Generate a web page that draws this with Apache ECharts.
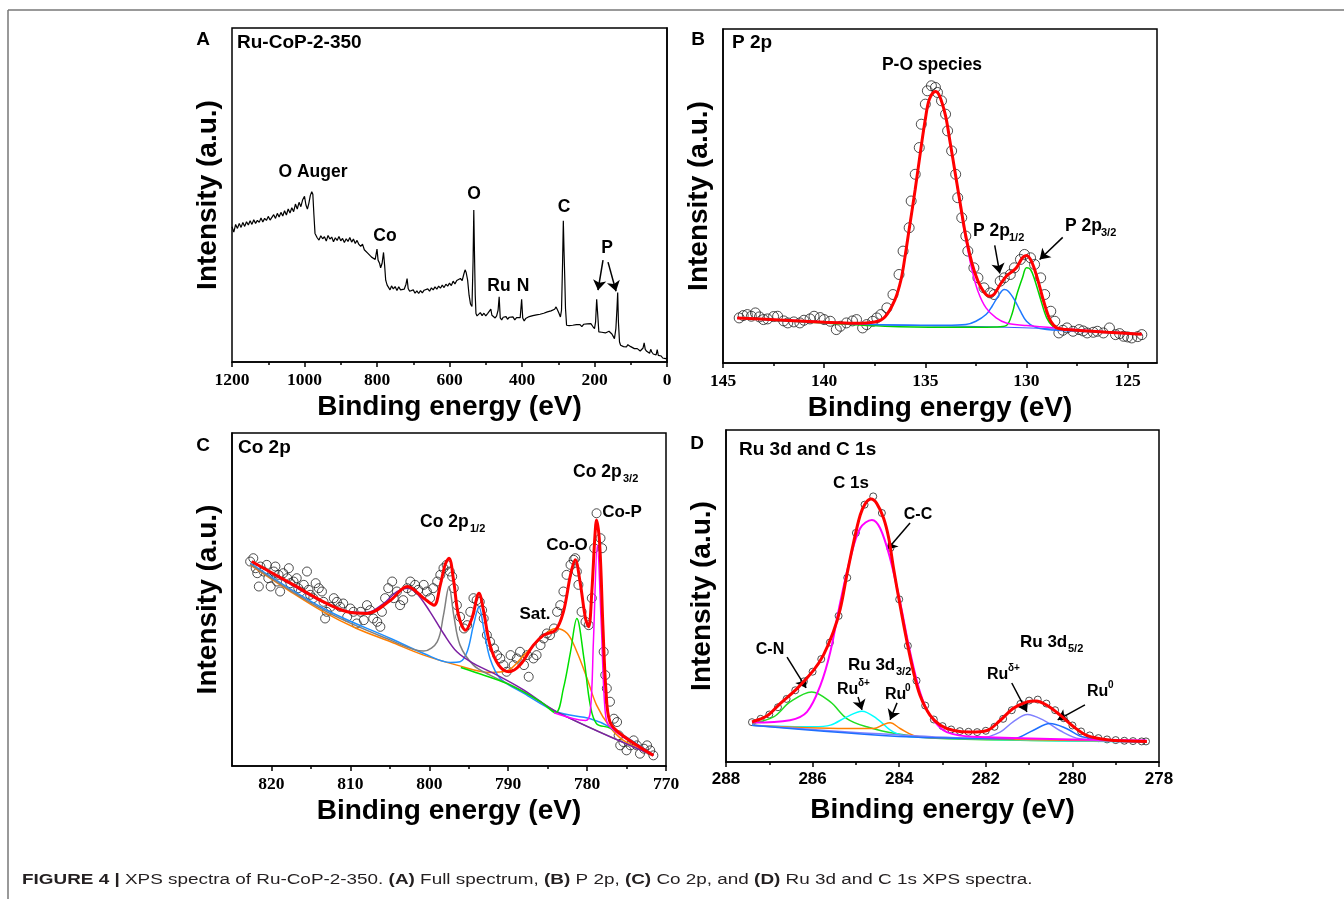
<!DOCTYPE html>
<html><head><meta charset="utf-8">
<script src="https://cdn.jsdelivr.net/npm/echarts@6/dist/echarts.min.js"></script>
<style>html,body{margin:0;padding:0;background:#fff}#c{width:1344px;height:899px}</style>
</head><body><div id="c"></div>
<script>
// ---------- Tick labels ----------
const ticksB = [125, 130, 135, 140, 145];
const minorB = [127.5, 132.5, 137.5, 142.5];
const ticksC = [770, 780, 790, 800, 810, 820];
const minorC = [775, 785, 795, 805, 815];

// ---------- Panel A: survey spectrum [eV, intensity a.u.] ----------
const specA = [
[1200,40.5],[1195,38.9],[1190,41.2],[1185,40.0],[1180,41.5],[1175,40.3],[1170,41.8],[1165,40.6],[1160,42.0],[1155,41.0],
[1150,42.3],[1145,41.2],[1140,42.6],[1135,41.5],[1130,42.4],[1125,41.8],[1120,43.1],[1115,41.9],[1110,43.0],[1105,42.4],
[1100,43.6],[1095,42.5],[1090,43.3],[1085,44.1],[1080,43.0],[1075,44.5],[1070,43.4],[1065,44.8],[1060,43.7],[1055,45.3],
[1050,44.0],[1045,45.8],[1040,44.6],[1035,46.2],[1030,45.0],[1025,47.3],[1020,45.8],[1015,47.8],[1010,46.5],[1005,48.6],
[1000,49.6],[996,47.0],[992,45.8],[988,47.5],[984,49.8],[980,51.0],[977,50.2],[974,44.0],[971,38.5],[968,38.0],
[965,37.2],[960,36.5],[955,37.8],[950,36.9],[945,37.5],[940,36.2],[935,37.9],[930,36.8],[925,37.4],[920,36.0],
[915,37.2],[910,36.4],[905,37.6],[900,36.3],[895,37.0],[890,35.8],[885,36.9],[880,36.1],[875,37.3],[870,35.9],
[865,36.8],[860,35.5],[855,36.4],[850,35.2],[845,34.6],[840,35.3],[835,33.6],[830,33.9],[825,32.5],[820,32.9],
[815,31.4],[810,31.8],[805,30.7],[800,33.8],[797,30.5],[793,29.6],[790,28.2],[786,29.5],[782,32.8],[779,29.0],
[776,24.5],[772,23.0],[768,22.6],[764,21.6],[760,22.8],[755,21.9],[750,22.6],[745,21.4],[740,22.5],[735,21.6],
[730,22.1],[725,21.8],[720,23.3],[717,25.0],[714,22.0],[710,21.2],[705,20.8],[700,21.6],[695,20.6],[690,21.3],
[685,20.5],[680,21.4],[675,20.7],[670,21.5],[665,21.0],[660,21.9],[655,21.2],[650,22.2],[645,21.6],[640,22.5],
[635,21.8],[630,22.7],[625,22.1],[620,23.0],[615,22.3],[610,23.3],[605,22.7],[600,23.6],[595,22.9],[590,24.2],
[585,23.4],[580,24.4],[575,24.0],[570,25.0],[565,24.4],[560,26.5],[557,27.6],[554,26.8],[550,24.5],[546,20.0],
[542,17.3],[538,16.6],[535,30.0],[533,45.5],[531,32.0],[529,20.0],[527,14.5],[524,13.8],[520,14.0],[515,14.8],
[510,13.9],[505,14.6],[500,13.8],[495,14.5],[490,14.2],[486,15.8],[483,14.0],[478,13.5],[474,13.2],[470,13.8],
[466,15.5],[463,19.5],[460,13.2],[456,12.6],[452,13.4],[448,12.9],[444,13.6],[440,12.8],[435,13.4],[430,13.0],
[425,13.5],[420,12.6],[415,13.3],[410,12.8],[405,13.3],[401,18.8],[398,13.2],[394,12.3],[390,13.0],[385,12.8],
[380,13.6],[375,13.2],[370,13.9],[365,13.4],[360,14.1],[355,13.7],[350,14.3],[345,13.9],[340,14.6],[335,14.2],
[330,15.0],[325,14.6],[320,15.3],[315,15.0],[310,15.8],[306,16.5],[302,15.6],[298,14.6],[294,13.5],[291,15.5],
[288,30.0],[286,42.3],[284,33.0],[282,25.0],[280,16.0],[277,11.0],[274,10.6],[270,10.9],[265,10.4],[260,11.0],
[255,10.6],[250,11.2],[245,10.8],[240,11.2],[235,10.6],[230,11.3],[225,10.9],[220,11.4],[215,11.0],[210,11.5],
[205,10.7],[200,10.0],[197,12.0],[194,18.8],[191,14.0],[188,9.0],[184,8.6],[180,8.9],[175,8.4],[170,8.7],
[165,8.3],[160,9.2],[156,9.5],[152,8.4],[148,7.6],[145,7.0],[141,10.0],[138,16.0],[136,20.8],[134,12.0],
[131,6.0],[128,5.0],[124,4.9],[120,4.6],[116,4.8],[112,4.5],[108,5.2],[104,5.4],[100,4.6],[95,4.4],
[90,4.0],[86,3.6],[82,4.0],[78,3.8],[74,3.3],[70,3.5],[66,4.2],[63,5.7],[60,3.8],[56,3.2],
[52,3.0],[48,2.6],[45,3.8],[42,3.0],[38,2.4],[34,2.8],[30,2.1],[27,3.7],[24,2.0],[20,1.6],
[16,1.8],[12,1.2],[8,1.5],[4,1.0],[0,1.3]
];

// ---------- Panel B: P 2p ----------
const dataB = [
[144.2,13.5],[144.0,14.2],[143.8,14.5],[143.6,14.0],[143.4,15.0],[143.2,13.8],[143.0,13.0],[142.8,13.2],[142.5,13.9],[142.3,14.0],
[142.0,12.6],[141.8,12.0],[141.5,12.3],[141.2,12.0],[141.0,12.8],[140.7,13.2],[140.5,14.0],[140.2,13.6],[140.0,13.0],[139.7,12.5],
[139.4,10.0],[139.2,11.0],[138.9,12.0],[138.6,12.6],[138.4,13.0],[138.1,10.5],[137.9,11.5],[137.6,12.5],[137.4,13.5],[137.2,14.5],
[136.9,16.5],[136.6,20.5],[136.3,26.5],[136.1,33.5],[135.8,40.5],[135.7,48.5],[135.5,56.5],[135.3,64.5],[135.2,71.5],[135.0,77.5],
[134.9,81.5],[134.7,83.0],[134.5,82.5],[134.4,81.0],[134.2,78.5],[134.0,74.5],[133.9,69.5],[133.7,63.5],[133.5,56.5],[133.4,49.5],
[133.2,43.5],[133.0,38.0],[132.9,33.5],[132.6,28.5],[132.4,25.5],[132.1,22.5],[131.8,21.0],[131.6,20.5],[131.3,24.5],[131.1,25.5],
[130.8,26.5],[130.6,28.5],[130.3,31.0],[130.1,32.5],[129.8,31.5],[129.6,29.5],[129.3,25.5],[129.1,20.5],[128.8,15.5],[128.6,12.5],
[128.4,9.0],[128.2,9.8],[128.0,10.5],[127.7,9.5],[127.4,10.0],[127.2,9.6],[127.0,9.0],[126.7,9.2],[126.5,9.5],[126.2,9.0],
[125.9,10.5],[125.6,8.5],[125.4,8.8],[125.2,8.0],[125.0,7.8],[124.8,7.5],[124.5,7.9],[124.3,8.5]
];
const envB = [[144.3,13.5],[142,12.8],[140,12.2],[138.5,11.9],[137.5,12.3],[137,13.8],[136.5,19],[136.2,25],[136,32],[135.8,40],
[135.5,52],[135.2,65],[135,73],[134.8,79],[134.5,81.3],[134.3,80],[134,74],[133.8,67],[133.5,56],[133.2,45],[133,38],[132.7,30],
[132.4,24.5],[132.1,21.2],[131.85,20.0],[131.6,20.6],[131.3,23.5],[131.0,26],[130.8,27],[130.5,28.5],[130.2,31.5],[130.0,32.2],
[129.8,31],[129.6,28],[129.4,24],[129.2,19.5],[129.0,15.5],[128.8,12.5],[128.5,10.5],[128,10],[126,9.2],[124.3,8.6]];
const poB = [[144.3,13.5],[140,12.3],[138,11.8],[137.5,12.3],[137,13.8],[136.5,19],[136.2,25],[136,32],[135.8,40],[135.5,52],
[135.2,65],[135,73],[134.8,79],[134.5,81.3],[134.3,80],[134,74],[133.8,67],[133.5,56],[133.2,44],[133,37],[132.7,28],[132.4,21.5],
[132,16.5],[131.5,13.5],[131,12],[130,11.2],[128,10.2],[126,9.3],[124.3,8.6]];
const p12B = [[144.3,13.5],[138,11.6],[134,11.3],[133,11.5],[132.5,12.5],[132,14.5],[131.7,17],[131.4,20],[131.1,22],[130.9,21.5],
[130.6,19],[130.3,15.5],[130,12.5],[129.6,10.8],[129,10],[127,9.4],[124.3,8.6]];
const p32B = [[144.3,13.5],[140,12],[137,11],[134,10.7],[131.5,10.8],[131,11.2],[130.7,15],[130.5,20],[130.2,25.5],[130.0,28.5],
[129.8,28],[129.6,25],[129.3,19],[129.0,13.5],[128.7,11],[128.3,10],[126,9.2],[124.3,8.6]];
const bgB = [[144.3,13.4],[140,12.1],[137,11.4],[134,11.1],[131,10.7],[128,10.0],[124.3,8.7]];

// ---------- Panel C: Co 2p ----------
const dataC = [
[822.7,61.4],[822.3,62.4],[822.0,59.4],[821.8,57.9],[821.6,53.9],[821.4,59.9],[821.0,58.4],[820.6,60.4],[820.4,56.4],[820.1,53.9],
[819.7,58.4],[819.5,59.9],[819.3,55.4],[819.1,57.4],[818.9,52.4],[818.5,57.9],[818.0,56.4],[817.8,59.4],[817.6,54.9],[817.2,55.4],
[816.8,56.4],[816.6,53.4],[816.3,52.4],[815.9,54.4],[815.5,58.4],[815.3,52.9],[815.1,51.4],[814.7,50.4],[814.4,54.9],[814.0,53.4],
[813.6,52.4],[813.4,49.3],[813.2,44.3],[813.0,46.3],[812.5,47.8],[812.1,50.4],[811.7,49.3],[811.3,47.8],[810.9,48.8],[810.4,44.8],
[810.0,47.3],[809.6,46.3],[809.2,42.8],[808.7,46.3],[808.3,43.8],[807.9,48.3],[807.5,46.8],[807.1,44.3],[806.6,43.3],[806.2,41.8],
[806.0,46.3],[805.6,50.4],[805.2,53.4],[804.7,55.4],[804.5,50.4],[804.1,52.4],[803.7,48.3],[803.3,49.8],[802.8,53.4],[802.4,55.4],
[802.2,52.4],[801.8,54.4],[801.4,52.9],[800.7,54.4],[800.3,52.4],[799.9,50.4],[799.5,53.4],[799.0,55.4],[798.6,57.4],[798.2,59.4],
[797.8,60.4],[797.4,58.4],[797.1,56.9],[796.9,53.4],[796.5,48.3],[796.1,44.8],[795.6,41.3],[795.2,42.3],[794.8,46.3],[794.4,50.4],
[794.0,49.8],[793.6,49.3],[793.3,46.8],[793.1,44.3],[792.7,39.3],[792.3,37.3],[791.8,35.3],[791.4,33.3],[791.0,32.3],[790.6,30.3],
[790.2,28.3],[789.7,33.3],[789.3,30.3],[788.9,32.3],[788.5,34.3],[788.0,30.3],[787.6,33.3],[787.4,26.8],[786.8,32.3],[786.4,33.3],
[785.9,36.3],[785.5,38.3],[785.1,39.8],[784.7,39.3],[784.2,41.3],[783.8,46.3],[783.4,48.3],[783.0,52.4],[782.6,57.4],[782.1,60.4],
[781.7,61.9],[781.5,62.4],[781.3,58.4],[781.1,54.4],[780.7,46.3],[780.2,43.3],[779.8,42.3],[779.4,50.4],[779.1,65.4],[778.8,75.9],
[778.3,68.4],[778.1,65.4],[777.9,34.3],[777.7,27.3],[777.5,23.3],[777.1,19.3],[776.6,14.2],[776.2,13.2],[776.0,9.2],[775.8,6.2],
[775.4,7.2],[775.0,4.7],[774.5,6.2],[774.1,7.7],[773.7,6.2],[773.3,3.7],[772.8,5.2],[772.4,6.2],[772.0,4.7],[771.6,3.2]
];
const envC = [[822.5,61.4],[817.6,54.9],[813.4,49.3],[810.4,46.3],[807.9,45.8],[804.9,49.8],[802.8,53.9],[800.7,50.4],[799.4,48.3],
[798.6,54.4],[798.0,60.4],[797.5,62.4],[796.9,55.4],[796.3,45.3],[795.4,40.8],[794.6,44.3],[793.7,51.9],[793.1,46.3],[792.3,36.3],
[791.2,30.3],[789.9,28.3],[788.5,30.3],[786.8,36.3],[785.5,39.3],[784.0,40.8],[783.0,46.3],[782.1,57.4],[781.5,61.9],[780.9,55.4],
[780.2,44.3],[779.8,41.8],[779.4,52.4],[779.0,69.4],[778.8,73.9],[778.4,66.4],[778.0,42.3],[777.6,22.3],[777.1,13.2],[775.8,9.7],[771.6,3.2]];
const satC = [[822.7,60.4],[817.6,52.4],[813.4,46.3],[809.2,41.3],[804.9,37.3],[800.7,33.3],[796.5,30.3],[792.3,28.1],[790.2,28.5],
[788.0,33.3],[785.9,38.3],[784.0,41.3],[782.5,39.8],[781.3,34.3],[780.0,26.3],[778.8,18.3],[777.1,11.7],[775.4,7.7],[771.6,3.2]];
const coO12C = [[822.7,60.9],[813.4,47.3],[804.9,38.3],[800.7,33.8],[797.3,31.1],[796.1,31.3],[795.2,34.3],[794.4,42.3],[793.7,47.8],
[793.1,41.3],[792.3,32.3],[791.0,26.3],[788.0,21.8],[783.8,16.2],[779.6,14.2],[777.1,11.7],[771.6,3.4]];
const coP12C = [[822.7,60.6],[813.4,46.8],[804.9,37.8],[800.7,34.5],[799.0,37.3],[798.2,45.3],[797.5,53.9],[796.9,45.3],[796.1,36.3],
[794.4,30.3],[792.3,27.3],[788.0,22.3],[783.8,16.2],[771.6,3.2]];
const sat12C = [[822.5,61.4],[817.6,54.6],[813.4,49.1],[810.4,46.5],[807.9,46.1],[805.8,48.8],[804.1,52.4],[802.8,53.4],[801.6,51.9],
[799.9,46.3],[798.2,39.8],[796.5,34.3],[794.4,30.8],[791.4,27.3],[788.0,22.8],[783.8,16.2],[771.6,3.2]];
const coO32C = [[796.0,29.6],[794.4,28.3],[790.2,24.8],[785.9,19.3],[784.0,16.0],[783.0,23.3],[782.1,34.3],[781.3,44.3],[780.4,32.3],
[779.6,18.3],[778.8,12.7],[777.1,11.4],[771.6,3.2]];
const coP32C = [[784.2,16.0],[780.2,13.7],[779.6,16.2],[779.2,37.3],[778.7,66.4],[778.2,42.3],[777.7,16.2],[777.1,11.7],[771.6,3.2]];

// ---------- Panel D: Ru 3d and C 1s ----------
const dataD = [
[287.4,12.0],[287.2,13.0],[287.0,14.3],[286.8,16.5],[286.6,19.0],[286.4,21.6],[286.2,24.3],[286.0,27.2],[285.8,31.0],[285.6,36.0],
[285.4,44.0],[285.2,55.5],[285.0,69.0],[284.8,77.5],[284.6,80.0],[284.4,75.0],[284.2,64.5],[284.0,49.0],[283.8,35.0],[283.6,24.5],
[283.4,17.0],[283.2,12.8],[283.0,10.8],[282.8,9.8],[282.6,9.3],[282.4,9.1],[282.2,9.0],[282.0,9.4],[281.8,10.6],[281.6,13.0],
[281.4,15.6],[281.2,17.5],[281.0,18.5],[280.8,18.8],[280.6,17.6],[280.4,15.6],[280.2,13.2],[280.0,11.0],[279.8,9.2],[279.6,8.0],
[279.4,7.2],[279.2,6.8],[279.0,6.6],[278.8,6.4],[278.6,6.3],[278.4,6.2],[278.3,6.2]
];
const envD = [[287.4,12.1],[287.05,13.9],[286.75,17.6],[286.36,22.1],[285.98,27.6],[285.75,32.2],[285.52,39.2],[285.36,46.2],
[285.21,56.3],[285.05,66.3],[284.9,74.4],[284.78,77.9],[284.65,79.2],[284.52,77.9],[284.36,73.4],[284.24,67.3],[284.13,58.3],
[283.98,47.2],[283.82,36.2],[283.67,27.1],[283.52,20.1],[283.29,14.1],[283.05,11.1],[282.74,9.5],[282.36,9.0],[281.97,9.5],
[281.67,12.5],[281.37,16.1],[281.05,18.1],[280.84,18.4],[280.59,17.1],[280.28,14.1],[279.97,10.6],[279.67,8.0],[279.36,7.0],
[279.05,6.5],[278.28,6.2]];
const ccD = [[287.4,11.9],[286.52,12.6],[286.13,15.1],[285.82,23.1],[285.59,33.2],[285.36,48.2],[285.13,61.3],[284.9,70.4],
[284.63,72.9],[284.44,70.4],[284.21,61.3],[283.98,48.2],[283.75,33.2],[283.52,21.1],[283.29,14.1],[282.9,9.0],[282.14,7.5],[278.29,6.5]];
const cnD = [[287.4,11.6],[286.9,13.6],[286.52,18.1],[286.02,21.1],[285.59,18.1],[285.21,13.1],[284.75,10.6],[284.06,8.5],[282.9,7.0],[278.29,6.2]];
const ruD32 = [[287.4,11.1],[285.98,10.6],[285.59,11.1],[285.21,13.6],[284.86,15.3],[284.52,13.1],[284.13,9.0],[283.67,7.5],[278.29,6.0]];
const ru0D32 = [[287.4,11.1],[285.21,10.1],[284.59,10.1],[284.36,11.3],[284.21,11.8],[283.98,10.1],[283.67,8.0],[283.29,7.3],[278.29,6.2]];
const ruD52 = [[287.4,11.1],[284.44,8.5],[282.14,7.2],[281.67,9.0],[281.37,12.1],[281.04,14.3],[280.67,12.6],[280.29,9.5],[279.83,7.0],[278.29,6.0]];
const ru0D52 = [[287.4,11.1],[283.67,7.5],[281.37,7.0],[280.91,9.5],[280.52,11.6],[280.14,10.1],[279.75,7.5],[278.29,6.0]];

// ---------- arrows (data coordinates: [from, to]) ----------
const arrowsA = [[[176.5,30.5],[190.3,21.5]],[[162.7,29.9],[140.6,21.2]]];
const arrowsB = [[[131.57,35.2],[131.32,26.8]],[[128.21,37.6],[129.35,31.0]]];
const arrowsD = [[[283.75,72.0],[284.28,63.9]],[[286.59,31.6],[286.15,22.3]],[[284.95,19.6],[284.86,15.7]],
                 [[284.05,17.8],[284.21,12.7]],[[281.40,23.8],[281.05,15.1]],[[279.71,17.2],[280.34,12.7]]];

// ---------- styling helpers ----------
const SANS = '"Liberation Sans", Arial, Helvetica, sans-serif';
const SERIF = '"Liberation Serif", "Times New Roman", serif';
const plain = v => String(v);

function xAxisBase(grid, extra) {
  return Object.assign({
    type: 'value', gridIndex: grid, inverse: true, position: 'bottom',
    axisLine: { show: true, onZero: false, lineStyle: { color: '#000', width: 1.5 } },
    axisTick: { show: true, length: 5, lineStyle: { color: '#000', width: 1.5 } },
    axisLabel: { color: '#000', fontFamily: SERIF, fontWeight: 'bold', fontSize: 17.5, margin: 9, formatter: plain },
    splitLine: { show: false },
    name: 'Binding energy (eV)', nameLocation: 'middle', nameGap: 31,
    nameTextStyle: { color: '#000', fontFamily: SANS, fontWeight: 'bold', fontSize: 28 }
  }, extra);
}
function minorAxis(grid, min, max, vals) {
  return { type: 'value', gridIndex: grid, inverse: true, position: 'bottom', min, max,
    axisLine: { show: false }, axisLabel: { show: false }, splitLine: { show: false },
    axisTick: { show: true, length: 3, customValues: vals, lineStyle: { color: '#000', width: 1.5 } } };
}
function yAxisBase(grid) {
  return { type: 'value', gridIndex: grid, min: 0, max: 100,
    axisLine: { show: true, lineStyle: { color: '#000', width: 1.5 } },
    axisTick: { show: false }, axisLabel: { show: false }, splitLine: { show: false },
    name: 'Intensity (a.u.)', nameLocation: 'middle', nameGap: 10,
    nameTextStyle: { color: '#000', fontFamily: SANS, fontWeight: 'bold', fontSize: 28 } };
}
const yIdx = { 0: 0, 1: 1, 2: 2, 3: 3, 4: 1, 5: 2 };
function line(xi, data, color, width, z) {
  return { type: 'line', xAxisIndex: xi, yAxisIndex: yIdx[xi], data, showSymbol: false, symbol: 'none',
    smooth: 0.35, lineStyle: { color, width: width || 1.5 }, z: z || 3, silent: true, animation: false };
}
function circles(xi, data, size) {
  return { type: 'scatter', xAxisIndex: xi, yAxisIndex: yIdx[xi], data, symbol: 'circle', symbolSize: size,
    itemStyle: { color: 'rgba(255,255,255,0)', borderColor: '#222', borderWidth: 1 }, z: 2, silent: true, animation: false };
}
function arrows(list) {
  return { silent: true, animation: false, symbol: ['none', 'arrow'], symbolSize: 10,
    lineStyle: { color: '#000', width: 1.5, type: 'solid' }, itemStyle: { color: '#000' }, label: { show: false },
    data: list.map(a => [{ coord: a[0] }, { coord: a[1] }]) };
}

function T(x, y, text, size, align, font) {
  return { type: 'text', x, y, silent: true,
    style: { text, font: 'bold ' + size + 'px ' + (font || SANS), fill: '#000',
      textAlign: align || 'left', align: align || 'left', textVerticalAlign: 'middle', verticalAlign: 'middle' } };
}

const texts = [
  // panel letters & titles
  T(203, 40, 'A', 19, 'center'), T(698, 40, 'B', 19, 'center'), T(203, 446, 'C', 19, 'center'), T(697, 444, 'D', 19, 'center'),
  T(237, 43, 'Ru-CoP-2-350', 19), T(732, 43, 'P 2p', 19), T(238, 448, 'Co 2p', 19), T(739, 450, 'Ru 3d and C 1s', 19),
  // A
  T(313, 172, 'O Auger', 17.5, 'center'), T(385, 236, 'Co', 17.5, 'center'), T(474, 194, 'O', 17.5, 'center'),
  T(499, 286, 'Ru', 17.5, 'center'), T(523, 286, 'N', 17.5, 'center'), T(564, 207, 'C', 17.5, 'center'), T(607, 248, 'P', 17.5, 'center'),
  // B
  T(932, 65, 'P-O species', 17.5, 'center'),
  T(973, 231, 'P 2p', 17.5), T(1009, 238, '1/2', 11),
  T(1065, 226, 'P 2p', 17.5), T(1101, 233, '3/2', 11),
  // C
  T(420, 522, 'Co 2p', 17.5), T(470, 529, '1/2', 11),
  T(573, 472, 'Co 2p', 17.5), T(623, 479, '3/2', 11),
  T(567, 545, 'Co-O', 17, 'center'), T(622, 512, 'Co-P', 17, 'center'), T(535, 614, 'Sat.', 17, 'center'),
  // D
  T(851, 483, 'C 1s', 17, 'center'), T(918, 515, 'C-C', 16, 'center'), T(770, 650, 'C-N', 16, 'center'),
  T(848, 665, 'Ru 3d', 17), T(896, 672, '3/2', 11),
  T(837, 690, 'Ru', 16), T(858, 683, 'δ+', 10),
  T(885, 695, 'Ru', 16), T(905, 688, '0', 10),
  T(1020, 642, 'Ru 3d', 17), T(1068, 649, '5/2', 11),
  T(987, 675, 'Ru', 16), T(1008, 668, 'δ+', 10),
  T(1087, 692, 'Ru', 16), T(1108, 685, '0', 10),
  // frame
  { type: 'line', silent: true, shape: { x1: 8, y1: 10, x2: 1344, y2: 10 }, style: { stroke: '#777', lineWidth: 1.5 } },
  { type: 'line', silent: true, shape: { x1: 8, y1: 10, x2: 8, y2: 899 }, style: { stroke: '#777', lineWidth: 1.5 } },
  // caption
  { type: 'text', x: 22, y: 880, silent: true, scaleX: 1.35,
    style: { text: '{b|FIGURE 4 |} XPS spectra of Ru-CoP-2-350. {b|(A)} Full spectrum, {b|(B)} P 2p, {b|(C)} Co 2p, and {b|(D)} Ru 3d and C 1s XPS spectra.',
      font: '14px ' + SANS, fill: '#231f20', textVerticalAlign: 'middle', verticalAlign: 'middle',
      rich: { b: { fontWeight: 'bold', fontSize: 14, fontFamily: SANS, fill: '#231f20', color: '#231f20' } } } }
];

const option = {
  animation: false,
  backgroundColor: '#fff',
  grid: [
    { left: 232, top: 28, width: 435, height: 334, show: true, borderColor: '#000', borderWidth: 1.5, containLabel: false },
    { left: 723, top: 29, width: 434, height: 334, show: true, borderColor: '#000', borderWidth: 1.5, containLabel: false },
    { left: 232, top: 433, width: 434, height: 333, show: true, borderColor: '#000', borderWidth: 1.5, containLabel: false },
    { left: 726, top: 430, width: 433, height: 332, show: true, borderColor: '#000', borderWidth: 1.5, containLabel: false }
  ],
  xAxis: [
    xAxisBase(0, { min: 0, max: 1200, interval: 200, minorTick: { show: true, splitNumber: 2, length: 3, lineStyle: { color: '#000', width: 1.5 } } }),
    xAxisBase(1, { min: 123.55, max: 145, axisTick: { show: true, length: 5, customValues: ticksB, lineStyle: { color: '#000', width: 1.5 } },
      axisLabel: { color: '#000', fontFamily: SERIF, fontWeight: 'bold', fontSize: 17.5, margin: 9, customValues: ticksB, formatter: plain } }),
    xAxisBase(2, { min: 770, max: 825, axisTick: { show: true, length: 5, customValues: ticksC, lineStyle: { color: '#000', width: 1.5 } },
      axisLabel: { color: '#000', fontFamily: SERIF, fontWeight: 'bold', fontSize: 17.5, margin: 9, customValues: ticksC, formatter: plain } }),
    xAxisBase(3, { min: 278, max: 288, interval: 2, nameGap: 34,
      minorTick: { show: true, splitNumber: 2, length: 3, lineStyle: { color: '#000', width: 1.5 } },
      axisLabel: { color: '#000', fontFamily: SANS, fontWeight: 'bold', fontSize: 17, margin: 9, formatter: plain } }),
    minorAxis(1, 123.55, 145, minorB),
    minorAxis(2, 770, 825, minorC)
  ],
  yAxis: [yAxisBase(0), yAxisBase(1), yAxisBase(2), yAxisBase(3)],
  series: [
    Object.assign(line(0, specA, '#000', 1.2, 3), { smooth: false, markLine: arrows(arrowsA) }),
    // B
    circles(1, dataB, 10),
    line(1, bgB, '#3a5cff', 1.2, 3),
    line(1, p32B, '#00d400', 1.5, 4),
    line(1, p12B, '#1e78ff', 1.5, 4),
    line(1, poB, '#ff00ff', 1.5, 5),
    Object.assign(line(1, envB, '#ff0000', 3, 6), { markLine: arrows(arrowsB) }),
    // C
    circles(2, dataC, 9),
    line(2, satC, '#ff7f00', 1.5, 3),
    line(2, coO12C, '#1e8fff', 1.5, 4),
    line(2, coP12C, '#808080', 1.5, 4),
    line(2, sat12C, '#7b1fa2', 1.5, 4),
    line(2, coO32C, '#00e000', 1.5, 4),
    line(2, coP32C, '#ff00ff', 1.5, 5),
    line(2, envC, '#ff0000', 3, 6),
    // D
    circles(3, dataD, 7),
    line(3, cnD, '#22dd22', 1.5, 4),
    line(3, ruD32, '#00ffff', 1.5, 4),
    line(3, ru0D32, '#ff7f00', 1.5, 4),
    line(3, ruD52, '#8080ff', 1.5, 4),
    line(3, ru0D52, '#1e6fff', 1.5, 4),
    line(3, ccD, '#ff00ff', 2, 5),
    Object.assign(line(3, envD, '#ff0000', 3, 6), { markLine: arrows(arrowsD) })
  ],
  graphic: { elements: texts }
};

const chart = echarts.init(document.getElementById('c'), null, { renderer: 'canvas' });
chart.setOption(option);
</script></body></html>
